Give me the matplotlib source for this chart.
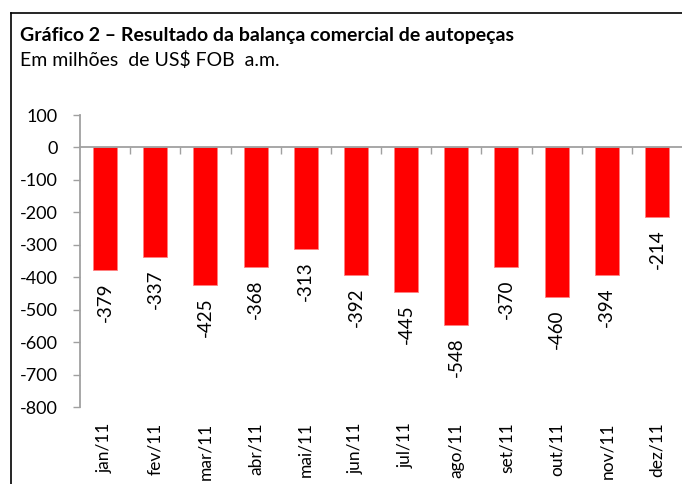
import matplotlib
matplotlib.use('Agg')
import matplotlib.pyplot as plt
from matplotlib.lines import Line2D

# Data
meses = ['jan/11', 'fev/11', 'mar/11', 'abr/11', 'mai/11', 'jun/11',
         'jul/11', 'ago/11', 'set/11', 'out/11', 'nov/11', 'dez/11']
saldo = [-379, -337, -425, -368, -313, -392, -445, -548, -370, -460, -394, -214]
y_ticks = [100, 0, -100, -200, -300, -400, -500, -600, -700, -800]

plt.rcParams['font.family'] = ['Lato', 'DejaVu Sans']

fig = plt.figure(figsize=(6.82, 4.84), dpi=100)
ax = fig.add_axes([80 / 682, 1 - 407 / 484, 602 / 682, 292 / 484])

x = list(range(len(meses)))
ax.bar(x, saldo, width=0.48, color='#ff0000', edgecolor='#ff8080', linewidth=0.6, zorder=2)

ax.set_xlim(-0.5, len(meses) - 0.5)
ax.set_ylim(-800, 100)
ax.set_yticks(y_ticks)
ax.set_yticklabels([str(v) for v in y_ticks], fontsize=13)
ax.tick_params(axis='y', direction='out', length=5, width=1, color='#a0a0a0', pad=11)

# x axis sits at zero, ticks between categories
for s in ['top', 'right']:
    ax.spines[s].set_visible(False)
ax.spines['left'].set_color('#a0a0a0')
ax.spines['left'].set_linewidth(1.3)
ax.spines['bottom'].set_position(('data', 0))
ax.spines['bottom'].set_color('#a0a0a0')
ax.spines['bottom'].set_linewidth(1.3)
ax.set_xticks([i + 0.5 for i in x[:-1]])
ax.set_xticklabels([])
ax.tick_params(axis='x', direction='out', length=5, width=1, color='#a0a0a0')

# month labels below the plot area
for i, m in enumerate(meses):
    ax.annotate(m, (i, -800), xytext=(0, -11), textcoords='offset points',
                rotation=90, ha='center', va='top', fontsize=12.5)

# value labels under each bar
for i, v in enumerate(saldo):
    ax.annotate(str(v), (i, v), xytext=(0, -9), textcoords='offset points',
                rotation=90, ha='center', va='top', fontsize=13.5)

fig.text(20 / 682, 1 - 35 / 484, 'Gráfico 2 – Resultado da balança comercial de autopeças',
         fontsize=14, fontweight='bold', va='center', ha='left')
fig.text(20 / 682, 1 - 60 / 484, 'Em milhões  de US$ FOB  a.m.',
         fontsize=14, va='center', ha='left')

# outer frame (left and top edges visible)
fig.add_artist(Line2D([10.5 / 682, 10.5 / 682], [0, 1 - 13 / 484], color='black', lw=1.2))
fig.add_artist(Line2D([10.5 / 682, 1], [1 - 13 / 484, 1 - 13 / 484], color='black', lw=1.2))

fig.savefig('out.png', dpi=100)
